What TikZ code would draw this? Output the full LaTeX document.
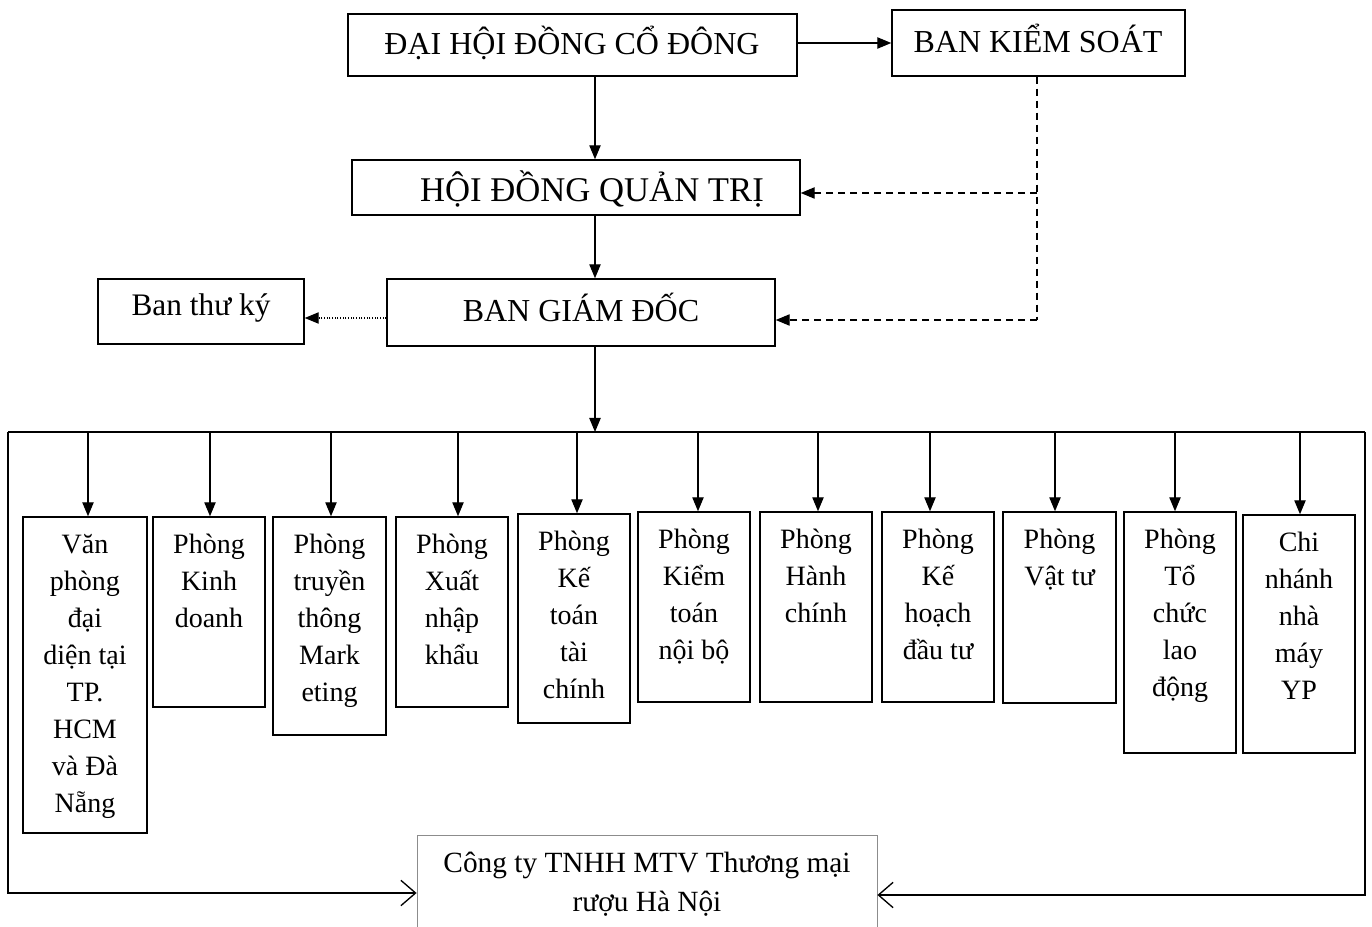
\documentclass[tikz,border=0pt]{standalone}
\usepackage{fontspec}
\setmainfont{Liberation Serif}
\usetikzlibrary{arrows.meta,fit}
\begin{document}
\begin{tikzpicture}[x=0.75pt,y=-0.75pt,
  box/.style={draw, line width=1.1pt, inner sep=0pt},
  ttl/.style={font=\fontsize{24}{28}\selectfont},
  dtext/.style={anchor=north, align=center, inner sep=0pt, font=\fontsize{21}{27.75}\selectfont},
  arr/.style={line width=1pt, -{Triangle[length=10.5pt,width=8.5pt]}},
  dsh/.style={line width=1pt, dash pattern=on 5.5pt off 3.5pt, -{Triangle[length=10.5pt,width=8.5pt]}},
  dsl/.style={line width=1pt, dash pattern=on 5.5pt off 3.5pt},
  dot/.style={line width=0.8pt, dash pattern=on 0.8pt off 1.2pt, -{Triangle[length=10.5pt,width=8.5pt]}},
  bus/.style={line width=1.1pt},
  barb/.style={line width=1.1pt, -{Straight Barb[length=11pt,width=19pt,line width=1pt]}}
]
\clip (0,0) rectangle (1372,927);
\fill[white] (0,0) rectangle (1372,927);
\newcommand{\fl}{\rule{0pt}{1.05em}}

% top boxes
\node[box, fit={(348,14) (797,76)}] (dh) {};
\node[ttl] (dht) at (572,43) {ĐẠI HỘI ĐỒNG CỔ ĐÔNG};
\node[box, fit={(892,10) (1185,76)}] (bks) {};
\node[ttl] (bkst) at (1038,38) {BAN KIỂM SOÁT};
\node[box, fit={(352,160) (800,215)}] (hd) {};
\node[font=\fontsize{26}{30}\selectfont] (hdt) at (592,189) {HỘI ĐỒNG QUẢN TRỊ};
\node[box, fit={(387,279) (775,346)}] (bgd) {};
\node[ttl] (bgdt) at (581,307) {BAN GIÁM ĐỐC};
\node[box, fit={(98,279) (304,344)}] (btk) {};
\node[font=\fontsize{23.5}{26}\selectfont] (btkt) at (201,308) {Ban thư ký};

\coordinate (ax) at (595,0);
\coordinate (dx) at (1037,0);
\coordinate (busL) at (8,432);
\coordinate (busR) at (1365,432);

\draw[arr] (dh.east |- 0,43) -- (bks.west |- 0,43);
\draw[arr] (dh.south -| ax) -- (hd.north -| ax);
\draw[arr] (hd.south -| ax) -- (bgd.north -| ax);
\draw[arr] (bgd.south -| ax) -- (busL -| ax);
\draw[dot] (bgd.west |- 0,318) -- (btk.east |- 0,318);
\draw[dsl] (bks.south -| dx) -- (dx |- 0,320);
\draw[dsh] (dx |- 0,193) -- (hd.east |- 0,193);
\draw[dsh] (dx |- 0,320) -- (bgd.east |- 0,320);

% bus
\draw[bus] (busL) -- (busR);

% departments
\node[box, fit={(23,517) (147,833)}] (d1) {};
\node[box, fit={(153,517) (265,707)}] (d2) {};
\node[box, fit={(273,517) (386,735)}] (d3) {};
\node[box, fit={(396,517) (508,707)}] (d4) {};
\node[box, fit={(518,514) (630,723)}] (d5) {};
\node[box, fit={(638,512) (750,702)}] (d6) {};
\node[box, fit={(760,512) (872,702)}] (d7) {};
\node[box, fit={(882,512) (994,702)}] (d8) {};
\node[box, fit={(1003,512) (1116,703)}] (d9) {};
\node[box, fit={(1124,512) (1236,753)}] (d10) {};
\node[box, fit={(1243,515) (1355,753)}] (d11) {};

\node[dtext] (d1t) at ([yshift=-5.5pt]d1.north) {\fl Văn\\phòng\\đại\\diện tại\\TP.\\HCM\\và Đà\\Nẵng};
\node[dtext] (d2t) at ([yshift=-5.5pt]d2.north) {\fl Phòng\\Kinh\\doanh};
\node[dtext] (d3t) at ([yshift=-5.5pt]d3.north) {\fl Phòng\\truyền\\thông\\Mark\\eting};
\node[dtext] (d4t) at ([yshift=-5.5pt]d4.north) {\fl Phòng\\Xuất\\nhập\\khẩu};
\node[dtext] (d5t) at ([yshift=-5.5pt]d5.north) {\fl Phòng\\Kế\\toán\\tài\\chính};
\node[dtext] (d6t) at ([yshift=-5.5pt]d6.north) {\fl Phòng\\Kiểm\\toán\\nội bộ};
\node[dtext] (d7t) at ([yshift=-5.5pt]d7.north) {\fl Phòng\\Hành\\chính};
\node[dtext] (d8t) at ([yshift=-5.5pt]d8.north) {\fl Phòng\\Kế\\hoạch\\đầu tư};
\node[dtext] (d9t) at ([yshift=-5.5pt]d9.north) {\fl Phòng\\Vật tư};
\node[dtext] (d10t) at ([yshift=-5.5pt]d10.north) {\fl Phòng\\Tổ\\chức\\lao\\động};
\node[dtext] (d11t) at ([yshift=-5.5pt]d11.north) {\fl Chi\\nhánh\\nhà\\máy\\YP};

\foreach \n/\xx in {d1/88,d2/210,d3/331,d4/458,d5/577,d6/698,d7/818,d8/930,d9/1055,d10/1175,d11/1300}{
  \draw[arr] (\xx,432) -- (\n.north -| \xx,0);
}

% company
\node[draw=black!45, line width=0.6pt, inner sep=0pt, fit={(417,835) (877,945)}] (ct) {};
\node[align=center, font=\fontsize{22}{29.25}\selectfont, anchor=north, inner sep=0pt] (ctt) at (647,841) {\fl Công ty TNHH MTV Thương mại\\rượu Hà Nội};
\coordinate (lb) at (8,893);
\coordinate (rb) at (1365,895);
\draw[barb] (busL) -- (lb) -- (ct.west |- lb);
\draw[barb] (busR) -- (rb) -- (ct.east |- rb);
\end{tikzpicture}
\end{document}
